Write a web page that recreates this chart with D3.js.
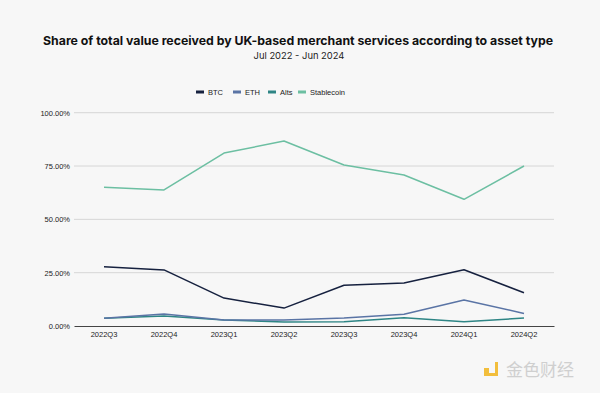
<!DOCTYPE html>
<html>
<head>
<meta charset="utf-8">
<script src="https://cdn.jsdelivr.net/npm/d3@7"></script>
<style>
  html, body { margin: 0; padding: 0; background: #f7f7f7; }
  svg { display: block; }
</style>
</head>
<body>
<div id="chart"></div>
<script>
// quarters on the x axis
const quarters = ["2022Q3", "2022Q4", "2023Q1", "2023Q2", "2023Q3", "2023Q4", "2024Q1", "2024Q2"];

// share of value received, percent
const btc = [27.8, 26.3, 13.1, 8.4, 19.1, 20.2, 26.4, 15.6];
const eth = [3.6, 5.6, 2.8, 2.8, 3.7, 5.5, 12.2, 5.9];
const alts = [3.6, 4.7, 2.8, 1.9, 2.0, 3.9, 2.0, 3.7];
const stablecoin = [65.0, 63.8, 81.1, 86.7, 75.5, 70.8, 59.4, 75.0];

const yTicks = [0, 25, 50, 75, 100];

const series = [
  { name: "BTC", values: btc, color: "#16213f" },
  { name: "ETH", values: eth, color: "#5a74a5" },
  { name: "Alts", values: alts, color: "#2e8585" },
  { name: "Stablecoin", values: stablecoin, color: "#6cbfa2" }
];

const width = 600, height = 393;
const svg = d3.select("#chart").append("svg")
    .attr("width", width)
    .attr("height", height);

svg.append("rect").attr("width", width).attr("height", height).attr("fill", "#f7f7f7");

// title
svg.append("text")
    .attr("x", 298).attr("y", 45)
    .attr("text-anchor", "middle")
    .style("font-family", "Inter, 'Open Sans', sans-serif")
    .style("font-weight", 700)
    .style("font-size", "12.3px")
    .attr("fill", "#111")
    .text("Share of total value received by UK-based merchant services according to asset type");

svg.append("text")
    .attr("x", 299).attr("y", 59)
    .attr("text-anchor", "middle")
    .style("font-family", "Inter, 'Open Sans', sans-serif")
    .style("font-size", "9.4px")
    .attr("fill", "#222")
    .text("Jul 2022 - Jun 2024");

// scales
const x = d3.scaleBand().domain(quarters).range([74, 554]);
const y = d3.scaleLinear().domain([0, 100]).range([326, 112.7]);

// grid lines
svg.append("g")
  .selectAll("line")
  .data(yTicks.filter(d => d > 0))
  .enter().append("line")
    .attr("x1", 74).attr("x2", 554)
    .attr("y1", d => y(d)).attr("y2", d => y(d))
    .attr("stroke", "#d6d6d6")
    .attr("stroke-width", 1);

// y axis labels
const yAxis = d3.axisLeft(y).tickValues(yTicks)
    .tickFormat(d => d.toFixed(2) + "%")
    .tickSize(0).tickPadding(4);
const gy = svg.append("g").attr("transform", "translate(74,0)").call(yAxis);
gy.select(".domain").remove();
gy.selectAll("text")
    .style("font-family", "'Liberation Sans', Arial, sans-serif")
    .style("font-size", "7.5px")
    .attr("fill", "#222");

// x axis
const xAxis = d3.axisBottom(x).tickSize(0).tickPadding(6);
const gx = svg.append("g").attr("transform", "translate(0,326)").call(xAxis);
gx.select(".domain").attr("stroke", "#444").attr("stroke-width", 1);
gx.selectAll("text")
    .style("font-family", "'Liberation Sans', Arial, sans-serif")
    .style("font-size", "7.5px")
    .attr("fill", "#222");

// lines
const line = d3.line()
    .x((d, i) => x(quarters[i]) + x.bandwidth() / 2)
    .y(d => y(d));

svg.append("g")
  .selectAll("path")
  .data(series.slice().reverse())
  .enter().append("path")
    .attr("d", d => line(d.values))
    .attr("fill", "none")
    .attr("stroke", d => d.color)
    .attr("stroke-width", 1.5)
    .attr("stroke-linejoin", "round");

// legend
const legendX = [196, 233, 268, 298];
const legend = svg.append("g")
  .selectAll("g")
  .data(series)
  .enter().append("g")
    .attr("transform", (d, i) => `translate(${legendX[i]},92)`);
legend.append("rect")
    .attr("x", 0).attr("y", -1.5)
    .attr("width", 8).attr("height", 3)
    .attr("fill", d => d.color);
legend.append("text")
    .attr("x", 12).attr("y", 2.8)
    .style("font-family", "'Liberation Sans', Arial, sans-serif")
    .style("font-size", "7.5px")
    .attr("fill", "#222")
    .text(d => d.name);

// watermark
const wm = svg.append("g").attr("transform", "translate(484,360)").attr("opacity", 0.85);
wm.append("rect").attr("x", 0).attr("y", 8).attr("width", 5).attr("height", 5).attr("fill", "#f2b51c");
wm.append("path").attr("d", "M8,2 h6 v14 h-14 v-3 h11 v-11 h-3 z").attr("fill", "#f2b51c");
wm.append("text")
    .attr("x", 22).attr("y", 16)
    .style("font-family", "'Noto Sans CJK SC', sans-serif")
    .style("font-size", "17px")
    .attr("fill", "#c9c9c9")
    .text("金色财经");
</script>
</body>
</html>
